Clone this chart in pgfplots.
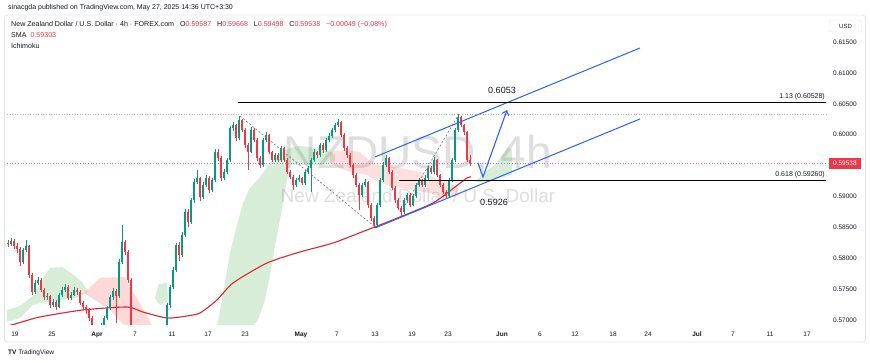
\documentclass[border=0pt]{standalone}
\usepackage{fontspec}
\setmainfont{Liberation Sans}
\usepackage{pgfplots}
\pgfplotsset{compat=1.18}
\usepackage{pgfplotstable}
\usetikzlibrary{arrows.meta}

\definecolor{upc}{HTML}{089981}
\definecolor{dnc}{HTML}{F23645}
\definecolor{tvtext}{HTML}{131722}
\definecolor{chan}{HTML}{2962FF}
\definecolor{smac}{HTML}{E0252F}
\definecolor{cgreen}{HTML}{4CAF50}
\definecolor{cred}{HTML}{F44336}
\definecolor{framec}{HTML}{E0E3EB}
\definecolor{lastc}{HTML}{B07FD0}

\pgfplotstableread{
x O H L C
8 0.58250 0.58300 0.58180 0.58230
11 0.58230 0.58330 0.58190 0.58279
14 0.58279 0.58310 0.58150 0.58198
17 0.58198 0.58240 0.58090 0.58149
20 0.58149 0.58180 0.57880 0.57939
23 0.57939 0.58170 0.57910 0.58133
26 0.58133 0.58300 0.58100 0.58198
29 0.58198 0.58220 0.57680 0.57728
32 0.57728 0.57760 0.57400 0.57453
35 0.57453 0.57640 0.57420 0.57599
38 0.57599 0.57700 0.57560 0.57647
41 0.57647 0.57680 0.57450 0.57486
44 0.57486 0.57520 0.57330 0.57372
47 0.57372 0.57430 0.57320 0.57388
50 0.57388 0.57410 0.57200 0.57243
53 0.57243 0.57340 0.57210 0.57291
56 0.57291 0.57320 0.57160 0.57210
59 0.57210 0.57440 0.57190 0.57405
62 0.57405 0.57530 0.57380 0.57486
65 0.57486 0.57590 0.57450 0.57534
68 0.57534 0.57560 0.57320 0.57356
71 0.57356 0.57450 0.57330 0.57405
74 0.57405 0.57540 0.57390 0.57486
77 0.57486 0.57520 0.57410 0.57453
80 0.57453 0.57480 0.57240 0.57275
83 0.57275 0.57300 0.57160 0.57210
86 0.57210 0.57250 0.57100 0.57162
89 0.57162 0.57200 0.56980 0.57032
92 0.57032 0.57060 0.56820 0.56871
95 0.56871 0.56900 0.56700 0.56757
98 0.56757 0.56850 0.56720 0.56806
101 0.56806 0.56950 0.56780 0.56903
104 0.56903 0.57070 0.56880 0.57032
107 0.57032 0.57230 0.57000 0.57194
110 0.57194 0.57400 0.57160 0.57372
113 0.57372 0.57510 0.57330 0.57469
116 0.57469 0.57500 0.56950 0.57388
119 0.57388 0.57980 0.57360 0.57939
122 0.57939 0.58530 0.57900 0.58263
125 0.58263 0.58300 0.58050 0.58101
128 0.58101 0.58130 0.57600 0.57647
131 0.57647 0.57680 0.56780 0.56838
134 0.56838 0.56900 0.56500 0.56595
137 0.56595 0.56650 0.56300 0.56353
140 0.56353 0.56400 0.55900 0.55948
143 0.55948 0.56100 0.55900 0.56029
146 0.56029 0.56060 0.55750 0.55786
149 0.55786 0.55820 0.55500 0.55543
152 0.55543 0.55680 0.55500 0.55624
155 0.55624 0.55750 0.55580 0.55705
158 0.55705 0.55990 0.55680 0.55948
161 0.55948 0.56400 0.55920 0.56353
164 0.56353 0.56880 0.56320 0.56838
167 0.56838 0.57280 0.56800 0.57243
170 0.57243 0.57570 0.57200 0.57534
173 0.57534 0.57850 0.57500 0.57809
176 0.57809 0.58250 0.57780 0.58214
179 0.58214 0.58260 0.57950 0.58052
182 0.58052 0.58420 0.58020 0.58376
185 0.58376 0.58790 0.58340 0.58748
188 0.58748 0.58800 0.58500 0.58586
191 0.58586 0.58980 0.58550 0.58942
194 0.58942 0.59280 0.58900 0.59234
197 0.59234 0.59430 0.59200 0.59299
200 0.59299 0.59320 0.58930 0.58991
203 0.58991 0.59230 0.58960 0.59185
206 0.59185 0.59340 0.59150 0.59299
209 0.59299 0.59330 0.59060 0.59104
212 0.59104 0.59300 0.59070 0.59266
215 0.59266 0.59760 0.59240 0.59719
218 0.59719 0.59770 0.59580 0.59622
221 0.59622 0.59650 0.59250 0.59299
224 0.59299 0.59440 0.59270 0.59396
227 0.59396 0.59630 0.59370 0.59590
230 0.59590 0.60140 0.59560 0.60108
233 0.60108 0.60200 0.60060 0.60157
236 0.60157 0.60180 0.59900 0.59946
239 0.59946 0.60302 0.59920 0.60237
242 0.60237 0.60260 0.60040 0.60076
245 0.60076 0.60100 0.59790 0.59833
248 0.59833 0.59860 0.59430 0.59719
251 0.59719 0.60124 0.59700 0.60076
254 0.60076 0.60100 0.59880 0.59914
257 0.59914 0.59940 0.59580 0.59622
260 0.59622 0.59650 0.59460 0.59509
263 0.59509 0.59950 0.59480 0.59914
266 0.59914 0.60040 0.59880 0.59995
269 0.59995 0.60010 0.59680 0.59719
272 0.59719 0.59740 0.59550 0.59590
275 0.59590 0.59710 0.59560 0.59671
278 0.59671 0.59700 0.59550 0.59590
281 0.59590 0.59820 0.59560 0.59784
284 0.59784 0.59800 0.59550 0.59590
287 0.59590 0.59620 0.59360 0.59396
290 0.59396 0.59420 0.59280 0.59315
293 0.59315 0.59340 0.59104 0.59185
296 0.59185 0.59300 0.59150 0.59266
299 0.59266 0.59340 0.59230 0.59299
302 0.59299 0.59320 0.59180 0.59218
305 0.59218 0.59430 0.59190 0.59396
308 0.59396 0.59500 0.59360 0.59460
311 0.59460 0.59630 0.59072 0.59590
314 0.59590 0.59760 0.59560 0.59719
317 0.59719 0.59740 0.59630 0.59671
320 0.59671 0.59870 0.59640 0.59833
323 0.59833 0.59860 0.59710 0.59752
326 0.59752 0.59950 0.59720 0.59914
329 0.59914 0.60020 0.59880 0.59978
332 0.59978 0.60110 0.59950 0.60076
335 0.60076 0.60190 0.60040 0.60157
338 0.60157 0.60254 0.60120 0.60205
341 0.60205 0.60220 0.59960 0.59995
344 0.59995 0.60020 0.59740 0.59784
347 0.59784 0.59810 0.59630 0.59671
350 0.59671 0.59700 0.59470 0.59509
353 0.59509 0.59540 0.59300 0.59347
356 0.59347 0.59380 0.59150 0.59185
359 0.59185 0.59210 0.58781 0.59023
362 0.59023 0.59220 0.58990 0.59185
365 0.59185 0.59280 0.59150 0.59234
368 0.59234 0.59250 0.58820 0.58862
371 0.58862 0.58890 0.58610 0.58651
374 0.58651 0.58680 0.58489 0.58538
377 0.58538 0.58900 0.58510 0.58862
380 0.58862 0.59300 0.58830 0.59266
383 0.59266 0.59550 0.59230 0.59509
386 0.59509 0.59671 0.59480 0.59622
389 0.59622 0.59640 0.59360 0.59396
392 0.59396 0.59420 0.59100 0.59137
395 0.59137 0.59170 0.58900 0.58942
398 0.58942 0.58970 0.58780 0.58813
401 0.58813 0.58840 0.58683 0.58748
404 0.58748 0.58980 0.58720 0.58942
407 0.58942 0.59060 0.58900 0.59023
410 0.59023 0.59050 0.58830 0.58862
413 0.58862 0.59040 0.58840 0.59007
416 0.59007 0.59220 0.58980 0.59185
419 0.59185 0.59300 0.59150 0.59266
422 0.59266 0.59290 0.59150 0.59185
425 0.59185 0.59340 0.59160 0.59299
428 0.59299 0.59500 0.59270 0.59460
431 0.59460 0.59490 0.59360 0.59396
434 0.59396 0.59639 0.59370 0.59590
437 0.59590 0.59610 0.59310 0.59347
440 0.59347 0.59370 0.59150 0.59185
443 0.59185 0.59210 0.59040 0.59072
446 0.59072 0.59100 0.58975 0.59007
449 0.59007 0.59300 0.58990 0.59266
452 0.59266 0.59630 0.59240 0.59590
455 0.59590 0.60110 0.59560 0.60076
458 0.60076 0.60335 0.60040 0.60286
461 0.60286 0.60310 0.60120 0.60157
464 0.60157 0.60180 0.60000 0.60043
467 0.60043 0.60060 0.59550 0.59587
470 0.59587 0.59668 0.59498 0.59538
}\candles

\newcommand{\fs}[1]{\fontsize{#1}{#1}\selectfont}

\begin{document}
\begin{tikzpicture}[x=1pt,y=1pt]
\useasboundingbox (0,0) rectangle (870,363);
\fill[white] (0,0) rectangle (870,363);
\draw[framec, line width=0.8pt, rounded corners=3pt] (4.5,21) rectangle (865.5,348);
% watermark
\node[text=black!13, font=\fs{46}] at (418,208) {NZDUSD, 4h};
\node[text=black!13, font=\fs{19}] at (418,167) {New Zealand Dollar / U.S. Dollar};

\begin{axis}[
  scale only axis, width=821pt, height=310pt,
  at={(7pt,38pt)}, anchor=south west,
  xmin=7, xmax=828, ymin=0.56919, ymax=0.61937,
  clip mode=individual,
  axis line style={draw=none}, major tick length=0pt,
  tick style={draw=none},
  scaled y ticks=false,
  xtick={15,52,97,135,172,208,245,301,337,375,412,448,502,540,575,613,648,697,733,770,807},
  xticklabels={19,25,\textbf{Apr},7,11,17,23,\textbf{May},7,13,19,23,\textbf{Jun},6,12,18,24,\textbf{Jul},7,11,17},
  xticklabel style={font=\fs{6.5}, text=tvtext, anchor=base, yshift=-11.5pt},
  ytick={0.570,0.575,0.580,0.585,0.590,0.600,0.605,0.610,0.615},
  yticklabel pos=right,
  yticklabel style={font=\fs{6.5}, text=tvtext, anchor=west, inner sep=0pt, xshift=5pt,
    /pgf/number format/fixed, /pgf/number format/fixed zerofill, /pgf/number format/precision=5},
  /pgf/number format/assume math mode=true,
]
% Ichimoku clouds
\addplot[fill=cgreen, fill opacity=0.22, draw=none, forget plot] coordinates {
 (7,0.57162) (20,0.57227) (33,0.57388) (45,0.57728) (50,0.57842) (62,0.57858) (68,0.57793)
 (75,0.57712) (83,0.57599) (87,0.57486) (87,0.57437) (75,0.57356) (60,0.57324) (45,0.57291)
 (33,0.57243) (20,0.57032) (7,0.56968)} -- cycle;
\addplot[fill=cred, fill opacity=0.2, draw=none, forget plot] coordinates {
 (85,0.57453) (100,0.57680) (125,0.57696) (130,0.57518) (138,0.57324) (148,0.57032) (152,0.56903)
 (125,0.56903) (110,0.57162) (95,0.57324) (85,0.57421)} -- cycle;
\addplot[fill=cgreen, fill opacity=0.22, draw=none, forget plot] coordinates {
 (155,0.57356) (159,0.57583) (167,0.57599) (168,0.57324) (160,0.57243)} -- cycle;
\addplot[fill=cgreen, fill opacity=0.22, draw=none, forget plot] coordinates {
 (217,0.56903) (222,0.57324) (230,0.58085) (237,0.58538) (243,0.58894) (250,0.59137) (260,0.59315)
 (270,0.59541) (280,0.59703) (290,0.59784) (300,0.59817) (315,0.59784) (330,0.59719) (335,0.59671)
 (335,0.59558) (320,0.59509) (300,0.59509) (290,0.59509) (285,0.59104) (280,0.58619) (275,0.58214)
 (270,0.57728) (265,0.57324) (258,0.57000) (253,0.56903)} -- cycle;
\addplot[fill=cred, fill opacity=0.16, draw=none, forget plot] coordinates {
 (330,0.59719) (345,0.59752) (360,0.59719) (368,0.59590) (380,0.59509) (400,0.59460) (420,0.59396)
 (435,0.59299) (450,0.59218) (458,0.59137) (458,0.59007) (445,0.58975) (430,0.59056) (410,0.59104)
 (390,0.59169) (375,0.59266) (367,0.59347) (350,0.59396) (340,0.59460) (330,0.59541)} -- cycle;
\addplot[fill=cgreen, fill opacity=0.22, draw=none, forget plot] coordinates {
 (475,0.59234) (485,0.59396) (495,0.59509) (502,0.59671) (508,0.59800) (512,0.59752)
 (512,0.59347) (500,0.59299) (490,0.59234)} -- cycle;

% reference dotted lines
\addplot[black!30, dotted, line width=0.6pt, forget plot] coordinates {(7,0.60335) (828,0.60335)};
\addplot[lastc, dotted, line width=0.7pt, forget plot] coordinates {(7,0.59538) (828,0.59538)};

% SMA
\addplot[smac, line width=1.1pt, smooth, tension=0.4, forget plot] coordinates {
 (7,0.56903) (15,0.56935) (40,0.57049) (83,0.57162) (127,0.57210) (143,0.57129) (167,0.57032)
 (187,0.57065) (200,0.57113) (217,0.57324) (233,0.57599) (267,0.57923) (300,0.58101) (333,0.58246)
 (367,0.58457) (400,0.58667) (433,0.58894) (450,0.59090) (467,0.59299) (471,0.59315)};

% candles: wicks
\addplot[draw=none, mark=none, forget plot, error bars/.cd, y dir=plus, y explicit, error mark=none,
  error bar style={draw=upc, line width=0.6pt}]
  table[x=x, y expr={\thisrow{C}>=\thisrow{O} ? \thisrow{L} : nan}, y error plus expr={\thisrow{H}-\thisrow{L}}]{\candles};
\addplot[draw=none, mark=none, forget plot, error bars/.cd, y dir=plus, y explicit, error mark=none,
  error bar style={draw=dnc, line width=0.6pt}]
  table[x=x, y expr={\thisrow{C}<\thisrow{O} ? \thisrow{L} : nan}, y error plus expr={\thisrow{H}-\thisrow{L}}]{\candles};
% candles: bodies
\addplot[draw=none, mark=none, forget plot, error bars/.cd, y dir=plus, y explicit, error mark=none,
  error bar style={draw=upc, line width=2pt}]
  table[x=x, y expr={\thisrow{C}>=\thisrow{O} ? \thisrow{O} : nan}, y error plus expr={max(\thisrow{C}-\thisrow{O},0.00004)}]{\candles};
\addplot[draw=none, mark=none, forget plot, error bars/.cd, y dir=plus, y explicit, error mark=none,
  error bar style={draw=dnc, line width=2pt}]
  table[x=x, y expr={\thisrow{C}<\thisrow{O} ? \thisrow{C} : nan}, y error plus expr={max(\thisrow{O}-\thisrow{C},0.00004)}]{\candles};

% drawings
\addplot[black!55, dashed, dash pattern=on 2pt off 2pt, line width=0.6pt, forget plot] coordinates {(240,0.60302) (375,0.58505)};
\addplot[black!55, dashed, dash pattern=on 2pt off 2pt, line width=0.6pt, forget plot] coordinates {(401,0.58748) (459,0.60335)};
\addplot[chan, line width=1pt, forget plot] coordinates {(375,0.59639) (640,0.61403)};
\addplot[chan, line width=1pt, forget plot] coordinates {(375,0.58489) (640,0.60254)};
\addplot[black, line width=1pt, forget plot] coordinates {(238,0.60528) (826,0.60528)};
\addplot[black, line width=1pt, forget plot] coordinates {(399,0.59260) (826,0.59260)};
\addplot[chan, line width=1.1pt, -{Straight Barb[length=4pt,width=7pt]}, forget plot] coordinates {(478,0.59541) (483,0.59315) (507,0.60399)};

\node[font=\fs{9}, text=tvtext, anchor=base, yshift=9pt] at (axis cs:502,0.60528) {0.6053};
\node[font=\fs{9}, text=tvtext, anchor=base, yshift=-25pt] at (axis cs:494,0.59260) {0.5926};
\node[font=\fs{7}, text=tvtext, anchor=base east, inner sep=0pt, yshift=4pt] at (axis cs:825,0.60528) {1.13 (0.60528)};
\node[font=\fs{7}, text=tvtext, anchor=base east, inner sep=0pt, yshift=4pt] at (axis cs:825,0.59260) {0.618 (0.59260)};
\node[fill=dnc, text=white, font=\fs{6.5}, anchor=west, inner xsep=4pt, inner ysep=3pt] at (axis cs:829,0.59538) {0.59538};
\end{axis}

% header and legend texts
\node[anchor=base west, font=\fs{7}, text=tvtext, inner sep=0pt] at (8,353.5) {sinacgda published on TradingView.com, May 27, 2025 14:36 UTC+3:30};
\node[anchor=base west, font=\fs{7.1}, text=tvtext, inner sep=0pt] at (11,336.5)
  {New Zealand Dollar / U.S. Dollar · 4h · FOREX.com\ \ \ O\textcolor{dnc}{0.59587}\ \ \ H\textcolor{dnc}{0.59668}\ \ \ L\textcolor{dnc}{0.59498}\ \ \ C\textcolor{dnc}{0.59538}\ \ \ \textcolor{dnc}{−0.00049 (−0.08\%)}};
\node[anchor=base west, font=\fs{7.1}, text=tvtext, inner sep=0pt] at (11,325.5) {SMA\ \ \textcolor{dnc}{0.59303}};
\node[anchor=base west, font=\fs{7.1}, text=tvtext, inner sep=0pt] at (11,314.5) {Ichimoku};
\node[font=\fs{6}, text=tvtext, draw=framec, rounded corners=1.5pt, minimum width=32pt, minimum height=12pt] at (845.5,337) {USD};
\node[anchor=base west, font=\fs{6.5}, text=tvtext, inner sep=0pt] at (8,8.5) {\textbf{TV}\ TradingView};
\end{tikzpicture}
\end{document}
